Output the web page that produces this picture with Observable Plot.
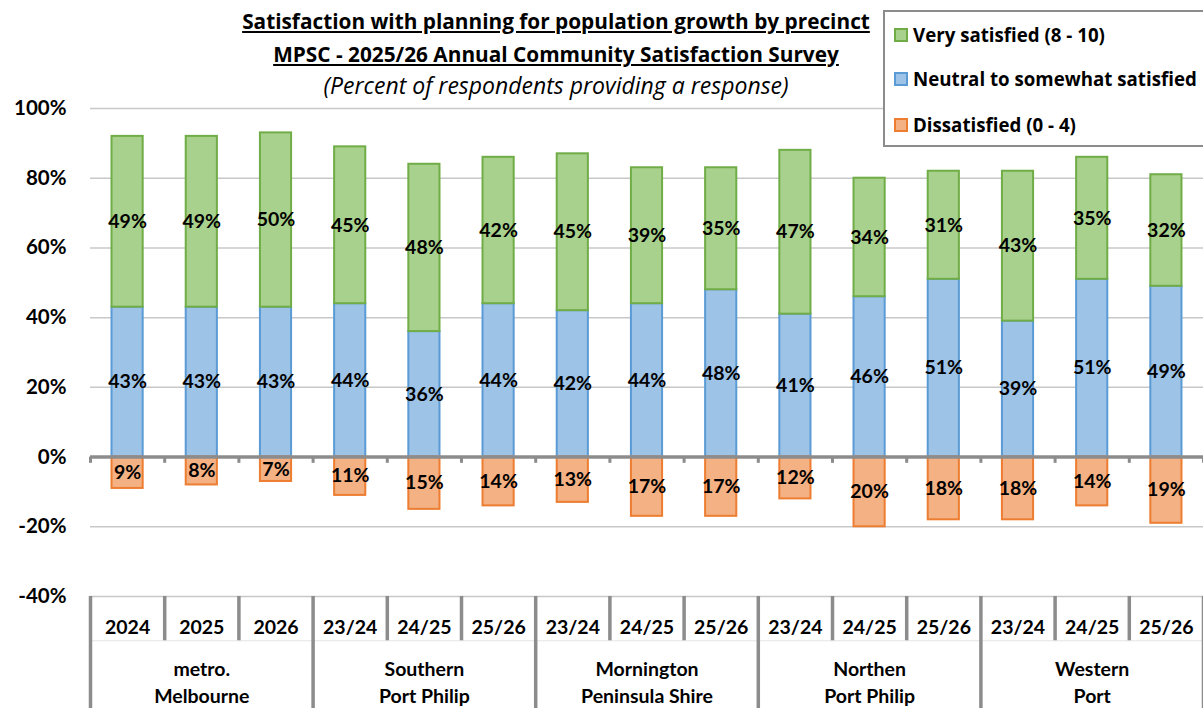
<!DOCTYPE html>
<html>
<head>
<meta charset="utf-8">
<script src="https://cdn.jsdelivr.net/npm/d3@7"></script>
<script src="https://cdn.jsdelivr.net/npm/@observablehq/plot@0.6"></script>
<style>
  html, body { margin: 0; padding: 0; background: #fff; }
  #wrap { position: relative; width: 1203px; height: 708px; overflow: hidden; font-family: Lato, "Open Sans", sans-serif; }
  #chart { position: absolute; left: 0; top: 0; }
  .t { position: absolute; left: 0; width: 1112px; text-align: center; color: #000; white-space: nowrap; font-family: "Open Sans", Lato, sans-serif; line-height: 1; }
  #t1 { top: 11px; font-size: 20.8px; font-weight: bold; text-decoration: underline; }
  #t2 { top: 44px; font-size: 20.8px; font-weight: bold; text-decoration: underline; }
  #t3 { top: 74px; font-size: 23px; font-style: italic; }
  #legend { position: absolute; left: 883px; top: 10px; width: 340px; height: 133px; border: 2px solid #8c8c8c; background: #fff; font-family: "Open Sans", Lato, sans-serif; }
  .li { position: absolute; left: 9px; display: flex; align-items: center; font-size: 18.7px; font-weight: bold; white-space: nowrap; }
  .sw { width: 10px; height: 10px; border: 2px solid; margin-right: 5px; }
</style>
</head>
<body>
<div id="wrap">
  <div id="chart"></div>
  <div class="t" id="t1">Satisfaction with planning for population growth by precinct</div>
  <div class="t" id="t2">MPSC - 2025/26 Annual Community Satisfaction Survey</div>
  <div class="t" id="t3">(Percent of respondents providing a response)</div>
  <div id="legend"></div>
</div>
<script>
// ---- data ----
const periods = ["2024","2025","2026","23/24","24/25","25/26","23/24","24/25","25/26","23/24","24/25","25/26","23/24","24/25","25/26"];
const precincts = ["metro.\nMelbourne","Southern\nPort Philip","Mornington\nPeninsula Shire","Northen\nPort Philip","Western\nPort"];
const verySatisfied = [49,49,50,45,48,42,45,39,35,47,34,31,43,35,32];
const neutral = [43,43,43,44,36,44,42,44,48,41,46,51,39,51,49];
const dissatisfied = [9,8,7,11,15,14,13,17,17,12,20,18,18,14,19];
const yTicks = [-40,-20,0,20,40,60,80,100];
const seriesNames = ["Very satisfied (8 - 10)","Neutral to somewhat satisfied","Dissatisfied (0 - 4)"];
const fills = ["#a9d18e","#9dc3e6","#f4b183"];
const strokes = ["#70ad47","#5b9bd5","#ed7d31"];

// ---- derived tables ----
const rows = periods.map((p, i) => ({i, period: p, very: verySatisfied[i], neutral: neutral[i], dis: dissatisfied[i]}));
const boundaries = d3.range(periods.length + 1);
const groupRows = precincts.map((name, g) => ({name, c: g * 3 + 1.5}));

const font = {fontSize: 19.5, fontWeight: "bold", fill: "#000"};

const chart = Plot.plot({
  width: 1203,
  height: 708,
  marginTop: 108,
  marginBottom: 112,
  marginLeft: 90,
  marginRight: 0,
  style: {fontFamily: "Lato, 'Open Sans', sans-serif", background: "transparent", overflow: "visible"},
  x: {domain: [0, periods.length], axis: null},
  y: {domain: [-40, 100], axis: null},
  marks: [
    Plot.ruleY(yTicks.filter(t => t !== 0), {stroke: "#c8c8c8", strokeWidth: 1.5}),
    Plot.rect(rows, {x1: d => d.i + 0.29, x2: d => d.i + 0.71, y1: 0, y2: "neutral", fill: fills[1], stroke: strokes[1], strokeWidth: 2}),
    Plot.rect(rows, {x1: d => d.i + 0.29, x2: d => d.i + 0.71, y1: "neutral", y2: d => d.neutral + d.very, fill: fills[0], stroke: strokes[0], strokeWidth: 2}),
    Plot.rect(rows, {x1: d => d.i + 0.29, x2: d => d.i + 0.71, y1: 0, y2: d => -d.dis, fill: fills[2], stroke: strokes[2], strokeWidth: 2}),
    Plot.ruleY([0], {stroke: "#8c8c8c", strokeWidth: 3.5}),
    Plot.ruleX(boundaries, {y1: 0, y2: -1.8, stroke: "#8c8c8c", strokeWidth: 3}),
    Plot.text(rows, {x: d => d.i + 0.5, y: d => d.neutral + d.very / 2, text: d => d.very + "%", ...font}),
    Plot.text(rows, {x: d => d.i + 0.5, y: d => d.neutral / 2, text: d => d.neutral + "%", ...font}),
    Plot.text(rows, {x: d => d.i + 0.5, y: d => -d.dis / 2, text: d => d.dis + "%", ...font}),
    Plot.axisY(yTicks, {tickSize: 0, tickPadding: 24, tickFormat: d => d + "%", fontSize: 20.5, fontWeight: "bold", fill: "#000", label: null}),
    // table below
    Plot.ruleY([-52.7], {stroke: "#e4e4e4", strokeWidth: 1}),
    Plot.ruleX(boundaries.filter(b => b % 3 !== 0), {y1: -40, y2: -52.7, stroke: "#8c8c8c", strokeWidth: 3.5}),
    Plot.ruleX(boundaries.filter(b => b % 3 === 0), {y1: -40, y2: -75, stroke: "#8c8c8c", strokeWidth: 3.5}),
    Plot.text(rows, {x: d => d.i + 0.5, y: -40, dy: 31, text: "period", ...font}),
    Plot.text(groupRows, {x: "c", y: -40, dy: 84, text: "name", lineHeight: 1.42, ...font})
  ]
});
document.getElementById("chart").appendChild(chart);

// legend
const legend = document.getElementById("legend");
const legendTops = [23, 67, 113];
seriesNames.forEach((name, k) => {
  const item = document.createElement("div");
  item.className = "li";
  item.style.top = (legendTops[k] - 13) + "px";
  const sw = document.createElement("div");
  sw.className = "sw";
  sw.style.background = fills[k];
  sw.style.borderColor = strokes[k];
  const label = document.createElement("span");
  label.textContent = name;
  item.appendChild(sw);
  item.appendChild(label);
  legend.appendChild(item);
});
</script>
</body>
</html>
